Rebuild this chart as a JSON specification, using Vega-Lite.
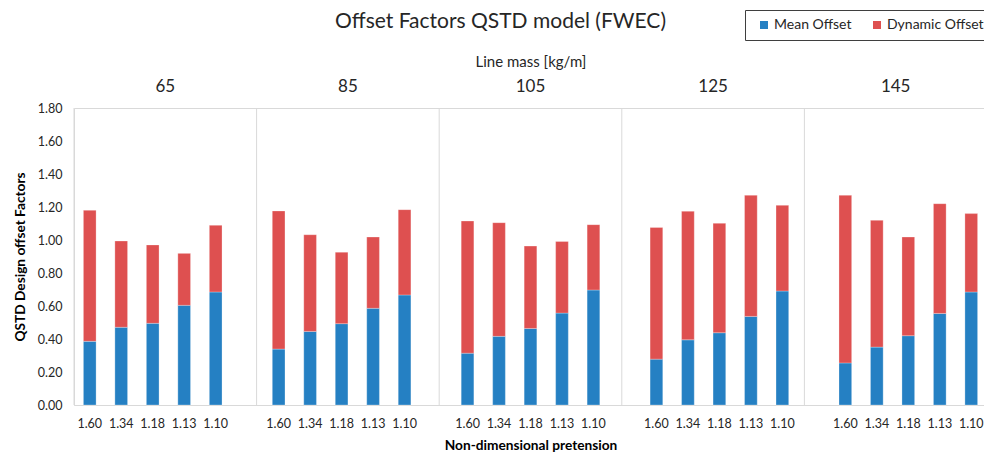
{
  "$schema": "https://vega.github.io/schema/vega-lite/v6.json",
  "autosize": {"type": "none"},
  "padding": {"left": 74, "top": 108, "right": 0, "bottom": 49},
  "width": 913,
  "height": 297,
  "background": "white",
  "title": {
    "text": "Offset Factors QSTD model (FWEC)",
    "font": "Lato",
    "fontSize": 21,
    "fontWeight": "normal",
    "color": "#262626",
    "anchor": "middle",
    "frame": "group",
    "dx": -30,
    "offset": -22
  },
  "config": {
    "view": {"stroke": "#d9d9d9", "strokeWidth": 1},
    "font": "Lato"
  },
  "datasets": {
    "bars": [
      {"slot": "65|1.60", "series": "Mean Offset", "value": 0.386},
      {"slot": "65|1.60", "series": "Dynamic Offset", "value": 0.794},
      {"slot": "65|1.34", "series": "Mean Offset", "value": 0.471},
      {"slot": "65|1.34", "series": "Dynamic Offset", "value": 0.523},
      {"slot": "65|1.18", "series": "Mean Offset", "value": 0.495},
      {"slot": "65|1.18", "series": "Dynamic Offset", "value": 0.475},
      {"slot": "65|1.13", "series": "Mean Offset", "value": 0.604},
      {"slot": "65|1.13", "series": "Dynamic Offset", "value": 0.315},
      {"slot": "65|1.10", "series": "Mean Offset", "value": 0.685},
      {"slot": "65|1.10", "series": "Dynamic Offset", "value": 0.404},
      {"slot": "85|1.60", "series": "Mean Offset", "value": 0.339},
      {"slot": "85|1.60", "series": "Dynamic Offset", "value": 0.837},
      {"slot": "85|1.34", "series": "Mean Offset", "value": 0.446},
      {"slot": "85|1.34", "series": "Dynamic Offset", "value": 0.586},
      {"slot": "85|1.18", "series": "Mean Offset", "value": 0.493},
      {"slot": "85|1.18", "series": "Dynamic Offset", "value": 0.433},
      {"slot": "85|1.13", "series": "Mean Offset", "value": 0.586},
      {"slot": "85|1.13", "series": "Dynamic Offset", "value": 0.432},
      {"slot": "85|1.10", "series": "Mean Offset", "value": 0.667},
      {"slot": "85|1.10", "series": "Dynamic Offset", "value": 0.517},
      {"slot": "105|1.60", "series": "Mean Offset", "value": 0.314},
      {"slot": "105|1.60", "series": "Dynamic Offset", "value": 0.801},
      {"slot": "105|1.34", "series": "Mean Offset", "value": 0.416},
      {"slot": "105|1.34", "series": "Dynamic Offset", "value": 0.689},
      {"slot": "105|1.18", "series": "Mean Offset", "value": 0.464},
      {"slot": "105|1.18", "series": "Dynamic Offset", "value": 0.499},
      {"slot": "105|1.13", "series": "Mean Offset", "value": 0.557},
      {"slot": "105|1.13", "series": "Dynamic Offset", "value": 0.434},
      {"slot": "105|1.10", "series": "Mean Offset", "value": 0.697},
      {"slot": "105|1.10", "series": "Dynamic Offset", "value": 0.396},
      {"slot": "125|1.60", "series": "Mean Offset", "value": 0.278},
      {"slot": "125|1.60", "series": "Dynamic Offset", "value": 0.798},
      {"slot": "125|1.34", "series": "Mean Offset", "value": 0.395},
      {"slot": "125|1.34", "series": "Dynamic Offset", "value": 0.779},
      {"slot": "125|1.18", "series": "Mean Offset", "value": 0.438},
      {"slot": "125|1.18", "series": "Dynamic Offset", "value": 0.663},
      {"slot": "125|1.13", "series": "Mean Offset", "value": 0.537},
      {"slot": "125|1.13", "series": "Dynamic Offset", "value": 0.734},
      {"slot": "125|1.10", "series": "Mean Offset", "value": 0.691},
      {"slot": "125|1.10", "series": "Dynamic Offset", "value": 0.519},
      {"slot": "145|1.60", "series": "Mean Offset", "value": 0.255},
      {"slot": "145|1.60", "series": "Dynamic Offset", "value": 1.016},
      {"slot": "145|1.34", "series": "Mean Offset", "value": 0.351},
      {"slot": "145|1.34", "series": "Dynamic Offset", "value": 0.768},
      {"slot": "145|1.18", "series": "Mean Offset", "value": 0.420},
      {"slot": "145|1.18", "series": "Dynamic Offset", "value": 0.598},
      {"slot": "145|1.13", "series": "Mean Offset", "value": 0.555},
      {"slot": "145|1.13", "series": "Dynamic Offset", "value": 0.665},
      {"slot": "145|1.10", "series": "Mean Offset", "value": 0.685},
      {"slot": "145|1.10", "series": "Dynamic Offset", "value": 0.475}
    ],
    "groups": [
      {"mass": "65"},
      {"mass": "85"},
      {"mass": "105"},
      {"mass": "125"},
      {"mass": "145"}
    ]
  },
  "layer": [
    {
      "data": {"name": "groups"},
      "mark": {"type": "rule", "color": "#d9d9d9", "strokeWidth": 1},
      "encoding": {
        "x": {
          "field": "mass",
          "type": "nominal",
          "bandPosition": 0,
          "sort": null,
          "scale": {"domain": ["65", "85", "105", "125", "145"], "paddingInner": 0, "paddingOuter": 0},
          "axis": {
            "orient": "top",
            "title": "Line mass [kg/m]",
            "titleFont": "Lato",
            "titleFontSize": 15,
            "titleFontWeight": "normal",
            "titleColor": "#262626",
            "titlePadding": 8,
            "labelFont": "Lato",
            "labelFontSize": 17,
            "labelColor": "#262626",
            "labelAngle": 0,
            "labelPadding": 13,
            "ticks": false,
            "domain": false,
            "grid": false
          }
        }
      }
    },
    {
      "data": {"name": "bars"},
      "mark": {"type": "bar", "stroke": "white", "strokeOpacity": 0.35, "strokeWidth": 0.8},
      "encoding": {
        "x": {
          "field": "slot",
          "type": "nominal",
          "sort": null,
          "scale": {
            "domain": ["65|1.60", "65|1.34", "65|1.18", "65|1.13", "65|1.10", "gap1",
                       "85|1.60", "85|1.34", "85|1.18", "85|1.13", "85|1.10", "gap2",
                       "105|1.60", "105|1.34", "105|1.18", "105|1.13", "105|1.10", "gap3",
                       "125|1.60", "125|1.34", "125|1.18", "125|1.13", "125|1.10", "gap4",
                       "145|1.60", "145|1.34", "145|1.18", "145|1.13", "145|1.10"],
            "paddingInner": 0.597,
            "paddingOuter": 0.2985
          },
          "axis": {
            "orient": "bottom",
            "title": "Non-dimensional pretension",
            "titleFont": "Lato",
            "titleFontSize": 13.7,
            "titleFontWeight": "bold",
            "titleColor": "#000000",
            "titlePadding": 9,
            "labelExpr": "indexof(datum.value, '|') > 0 ? split(datum.value, '|')[1] : ''",
            "labelFont": "Lato",
            "labelFontSize": 12.5,
            "labelColor": "#262626",
            "labelAngle": 0,
            "labelPadding": 12,
            "ticks": false,
            "domain": true,
            "domainColor": "#d9d9d9",
            "grid": false
          }
        },
        "y": {
          "field": "value",
          "type": "quantitative",
          "stack": "zero",
          "scale": {"domain": [0, 1.8], "nice": false},
          "axis": {
            "title": "QSTD Design offset Factors",
            "titleFont": "Lato",
            "titleFontSize": 13.7,
            "titleFontWeight": "bold",
            "titleColor": "#000000",
            "titlePadding": 10,
            "values": [0, 0.2, 0.4, 0.6, 0.8, 1.0, 1.2, 1.4, 1.6, 1.8],
            "format": ".2f",
            "labelFont": "Lato",
            "labelFontSize": 12.5,
            "labelColor": "#262626",
            "labelPadding": 12,
            "ticks": false,
            "domain": false,
            "grid": false
          }
        },
        "color": {
          "field": "series",
          "type": "nominal",
          "scale": {"domain": ["Mean Offset", "Dynamic Offset"], "range": ["#2580c3", "#de5050"]},
          "legend": {
            "title": null,
            "orient": "none",
            "direction": "horizontal",
            "legendX": 671,
            "legendY": -98,
            "padding": 8,
            "strokeColor": "#3f3f3f",
            "gridAlign": "none",
            "symbolType": "square",
            "symbolSize": 64,
            "symbolStrokeWidth": 0,
            "symbolOpacity": 1,
            "symbolOffset": 4,
            "labelFont": "Lato",
            "labelFontSize": 14,
            "labelColor": "#262626",
            "labelOffset": 3,
            "columnPadding": 14
          }
        },
        "order": {"field": "series", "sort": "descending"}
      }
    }
  ],
  "resolve": {"scale": {"x": "independent"}, "axis": {"x": "independent"}}
}
